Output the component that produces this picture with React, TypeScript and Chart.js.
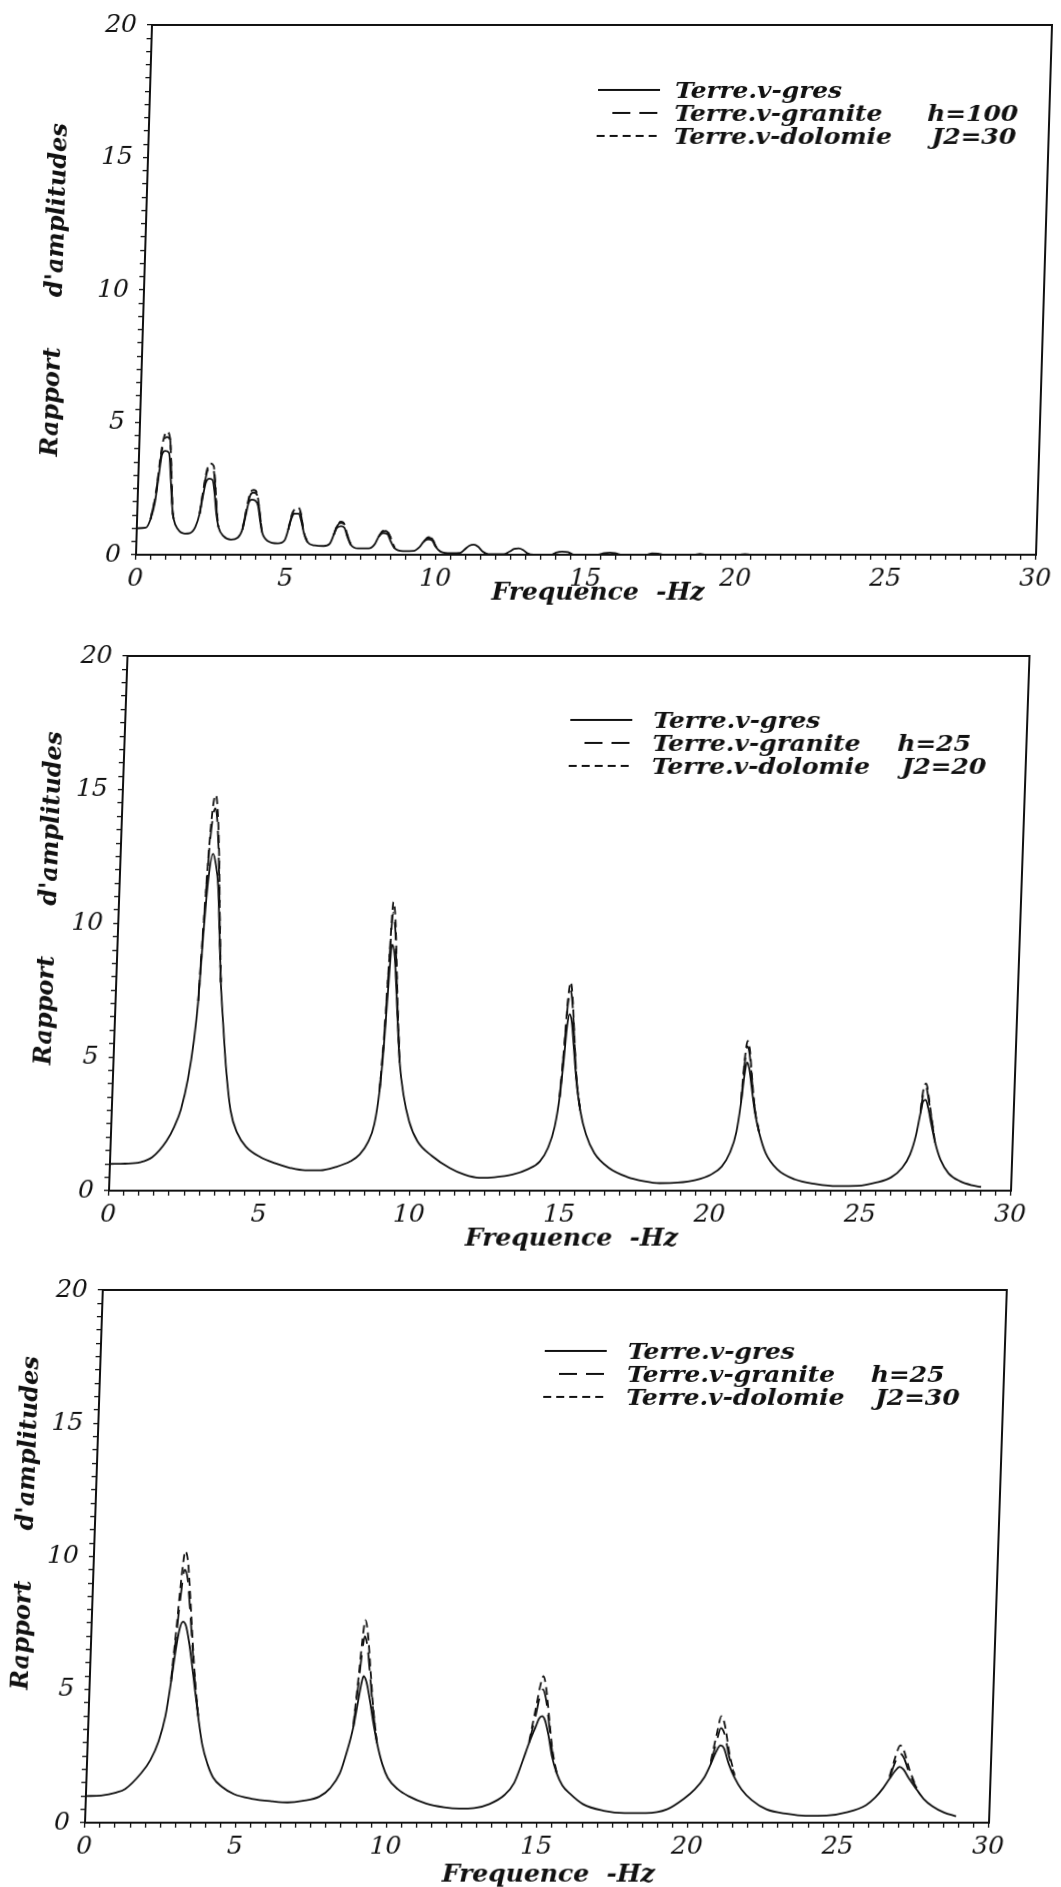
import React, { useEffect, useRef } from 'react';
import { Chart, registerables } from 'chart.js';

Chart.register(...registerables);

// ---------- shared text ----------
const SERIES_NAMES = ['Terre.v-gres', 'Terre.v-granite', 'Terre.v-dolomie'];
const X_TITLE = '   Frequence  -Hz';
const Y_TITLE_WORDS = ['Rapport', "d'amplitudes"];
const X_TICK_LABELS = [0, 5, 10, 15, 20, 25, 30];
const Y_TICK_LABELS = [0, 5, 10, 15, 20];

// ---------- panel 1 : h=100, J2=30 ----------
const p1Params = ['', 'h=100', 'J2=30'];
const p1Freq = [0, 0.3, 0.45, 0.58, 0.68, 0.76, 0.87, 1.0, 1.08, 1.15, 1.22, 1.36, 1.6, 1.78, 1.95, 2.08, 2.17, 2.25, 2.37, 2.48, 2.56, 2.63, 2.72, 2.9, 3.15, 3.38, 3.52, 3.62, 3.7, 3.8, 3.92, 4.02, 4.1, 4.18, 4.38, 4.72, 4.94, 5.05, 5.14, 5.24, 5.38, 5.48, 5.58, 5.7, 5.95, 6.25, 6.45, 6.57, 6.66, 6.8, 6.92, 7.02, 7.15, 7.4, 7.75, 7.95, 8.07, 8.22, 8.36, 8.48, 8.62, 8.9, 9.25, 9.45, 9.58, 9.72, 9.86, 9.98, 10.15, 10.5, 10.8, 10.95, 11.1, 11.25, 11.4, 11.55, 11.75, 12.25, 12.45, 12.6, 12.75, 12.9, 13.05, 13.25, 13.85, 14.0, 14.2, 14.4, 14.6, 15.4, 15.6, 15.8, 16.0, 16.2, 17.0, 17.2, 17.4, 17.6, 18.6, 18.8, 19.0, 20.1, 20.3, 20.5, 29.0];
const p1Gres = [1.0, 1.02, 1.35, 2.0, 3.0, 3.75, 3.92, 3.85, 2.9, 1.9, 1.35, 0.98, 0.8, 0.82, 1.05, 1.55, 2.2, 2.7, 2.87, 2.82, 2.3, 1.6, 1.05, 0.7, 0.57, 0.65, 0.95, 1.5, 1.95, 2.08, 2.05, 1.85, 1.3, 0.85, 0.52, 0.43, 0.55, 0.95, 1.35, 1.55, 1.55, 1.25, 0.8, 0.48, 0.35, 0.33, 0.42, 0.75, 1.0, 1.08, 1.02, 0.7, 0.38, 0.24, 0.24, 0.4, 0.68, 0.82, 0.78, 0.5, 0.24, 0.14, 0.15, 0.3, 0.5, 0.58, 0.54, 0.3, 0.12, 0.06, 0.07, 0.2, 0.34, 0.38, 0.3, 0.12, 0.02, 0.02, 0.12, 0.22, 0.24, 0.18, 0.05, 0.0, 0.0, 0.08, 0.12, 0.1, 0.0, 0.0, 0.06, 0.08, 0.05, 0.0, 0.0, 0.05, 0.04, 0.0, 0.0, 0.03, 0.0, 0.0, 0.02, 0.0, 0.0];
const p1PeakFreq = [0.45, 0.6, 0.72, 0.8, 0.9, 1.02, 1.1, 1.18, 1.22, 1.6, 2.08, 2.18, 2.28, 2.38, 2.5, 2.58, 2.65, 2.72, 3.1, 3.52, 3.64, 3.75, 3.86, 3.98, 4.08, 4.18, 4.6, 5.05, 5.15, 5.26, 5.36, 5.46, 5.56, 5.7, 6.1, 6.57, 6.68, 6.8, 6.92, 7.02, 7.15, 7.6, 8.07, 8.2, 8.3, 8.42, 8.62, 9.0, 9.58, 9.72, 9.84, 9.98, 10.15];
const p1Granite = [1.35, 2.3, 3.6, 4.2, 4.45, 4.35, 3.0, 1.6, 1.35, null, 1.55, 2.4, 3.1, 3.3, 3.2, 2.5, 1.6, 1.05, null, 0.95, 1.7, 2.25, 2.35, 2.25, 1.6, 0.85, null, 0.95, 1.45, 1.68, 1.72, 1.5, 0.9, 0.48, null, 0.75, 1.1, 1.2, 1.12, 0.75, 0.38, null, 0.68, 0.88, 0.9, 0.76, 0.24, null, 0.5, 0.64, 0.62, 0.32, 0.12];
const p1Dolomie = [1.35, 2.3, 3.7, 4.35, 4.65, 4.4, 3.1, 1.6, 1.35, null, 1.55, 2.45, 3.2, 3.45, 3.35, 2.6, 1.65, 1.05, null, 0.95, 1.75, 2.35, 2.45, 2.3, 1.6, 0.85, null, 0.95, 1.5, 1.74, 1.78, 1.55, 0.9, 0.48, null, 0.75, 1.12, 1.25, 1.15, 0.76, 0.38, null, 0.68, 0.9, 0.92, 0.77, 0.24, null, 0.5, 0.66, 0.64, 0.33, 0.12];

// ---------- panel 2 : h=25, J2=20 ----------
const p2Params = ['', 'h=25', 'J2=20'];
const p2Freq = [0, 0.5, 1.0, 1.4, 1.85, 2.1, 2.3, 2.5, 2.65, 2.75, 2.85, 2.95, 3.07, 3.18, 3.28, 3.38, 3.48, 3.6, 3.75, 3.95, 4.2, 4.5, 5.0, 5.5, 6.0, 6.5, 7.0, 7.5, 8.0, 8.3, 8.55, 8.75, 8.88, 8.97, 9.05, 9.13, 9.22, 9.3, 9.4, 9.52, 9.68, 9.9, 10.2, 10.7, 11.3, 11.8, 12.3, 12.8, 13.4, 13.9, 14.3, 14.55, 14.75, 14.88, 14.97, 15.05, 15.12, 15.2, 15.3, 15.42, 15.58, 15.8, 16.1, 16.6, 17.2, 17.8, 18.3, 18.9, 19.5, 20.0, 20.35, 20.6, 20.8, 20.92, 21.0, 21.07, 21.15, 21.25, 21.38, 21.55, 21.8, 22.2, 22.8, 23.5, 24.2, 24.9, 25.5, 26.0, 26.35, 26.6, 26.78, 26.9, 26.98, 27.06, 27.15, 27.27, 27.42, 27.62, 27.9, 28.3, 28.7, 29.0];
const p2Gres = [1.0, 1.01, 1.06, 1.25, 1.85, 2.4, 3.05, 4.2, 5.6, 7.1, 9.8, 11.7, 12.6, 12.2, 11.4, 9.6, 7.8, 6.3, 4.6, 3.0, 2.15, 1.65, 1.25, 1.02, 0.85, 0.76, 0.76, 0.88, 1.1, 1.36, 1.8, 2.5, 3.7, 5.3, 7.5, 9.2, 8.9, 7.9, 6.4, 4.8, 3.6, 2.6, 1.85, 1.3, 0.85, 0.6, 0.48, 0.5, 0.6, 0.8, 1.1, 1.6, 2.4, 3.5, 4.8, 6.2, 6.6, 6.3, 5.3, 4.1, 3.0, 2.1, 1.4, 0.85, 0.52, 0.35, 0.28, 0.3, 0.4, 0.6, 0.9, 1.4, 2.2, 3.3, 4.3, 4.8, 4.6, 3.9, 3.0, 2.2, 1.4, 0.8, 0.42, 0.25, 0.17, 0.18, 0.3, 0.5, 0.85, 1.35, 2.1, 2.9, 3.35, 3.4, 3.1, 2.5, 1.8, 1.15, 0.65, 0.35, 0.2, 0.14];
const p2PeakFreq = [2.75, 2.85, 2.95, 3.03, 3.1, 3.18, 3.28, 3.38, 3.48, 5.0, 8.88, 8.97, 9.05, 9.13, 9.22, 9.3, 9.4, 9.52, 12.0, 14.88, 14.97, 15.05, 15.12, 15.2, 15.3, 15.42, 15.58, 18.0, 20.92, 21.0, 21.07, 21.15, 21.25, 21.38, 21.55, 24.0, 26.9, 26.98, 27.06, 27.15, 27.27, 27.42];
const p2Granite = [7.1, 10.2, 12.9, 14.0, 14.3, 13.8, 12.2, 9.9, 7.8, null, 3.7, 5.6, 8.3, 10.4, 9.8, 8.4, 6.6, 4.8, null, 3.5, 5.2, 7.0, 7.5, 7.0, 5.7, 4.2, 3.0, null, 3.3, 4.8, 5.4, 5.1, 4.2, 3.1, 2.2, null, 2.9, 3.7, 3.85, 3.45, 2.7, 1.8];
const p2Dolomie = [7.1, 10.3, 13.2, 14.5, 14.8, 14.2, 12.5, 10.0, 7.8, null, 3.7, 5.7, 8.5, 10.8, 10.1, 8.6, 6.7, 4.8, null, 3.5, 5.3, 7.2, 7.8, 7.2, 5.8, 4.2, 3.0, null, 3.4, 5.0, 5.6, 5.3, 4.3, 3.1, 2.2, null, 3.0, 3.85, 4.0, 3.55, 2.75, 1.8];

// ---------- panel 3 : h=25, J2=30 ----------
const p3Params = ['', 'h=25', 'J2=30'];
const p3Freq = [0, 0.5, 1.0, 1.3, 1.8, 2.1, 2.35, 2.55, 2.7, 2.82, 2.93, 3.03, 3.13, 3.25, 3.38, 3.5, 3.65, 3.8, 4.0, 4.2, 4.5, 4.9, 5.5, 6.2, 6.7, 7.2, 7.75, 8.1, 8.4, 8.62, 8.8, 8.92, 9.0, 9.08, 9.18, 9.3, 9.45, 9.6, 9.8, 10.0, 10.35, 10.7, 11.3, 11.9, 12.4, 12.9, 13.4, 13.9, 14.2, 14.45, 14.65, 14.85, 14.95, 15.05, 15.15, 15.28, 15.42, 15.6, 15.8, 16.05, 16.5, 17.2, 17.9, 18.6, 19.3, 19.85, 20.2, 20.5, 20.7, 20.88, 21.0, 21.12, 21.3, 21.5, 21.75, 22.1, 22.6, 23.3, 23.9, 24.6, 25.3, 25.9, 26.2, 26.45, 26.65, 26.83, 26.97, 27.1, 27.3, 27.56, 27.8, 28.1, 28.5, 28.9];
const p3Gres = [1.0, 1.02, 1.13, 1.27, 1.85, 2.35, 3.05, 4.0, 5.3, 6.5, 7.3, 7.55, 7.4, 6.8, 5.9, 5.0, 3.9, 2.95, 2.2, 1.7, 1.35, 1.08, 0.9, 0.8, 0.76, 0.82, 0.98, 1.3, 1.85, 2.7, 3.6, 4.5, 5.1, 5.5, 5.3, 4.7, 3.8, 3.0, 2.2, 1.68, 1.25, 1.0, 0.72, 0.58, 0.53, 0.55, 0.7, 1.05, 1.5, 2.3, 3.0, 3.6, 3.9, 4.0, 3.85, 3.3, 2.5, 1.85, 1.4, 1.1, 0.7, 0.45, 0.36, 0.36, 0.5, 0.9, 1.25, 1.7, 2.2, 2.7, 2.9, 2.8, 2.2, 1.7, 1.25, 0.85, 0.5, 0.33, 0.26, 0.27, 0.4, 0.66, 0.95, 1.3, 1.65, 1.95, 2.1, 2.0, 1.65, 1.25, 0.9, 0.62, 0.38, 0.24];
const p3PeakFreq = [2.7, 2.82, 2.93, 3.03, 3.13, 3.25, 3.38, 3.5, 3.65, 6.0, 8.8, 8.92, 9.0, 9.08, 9.18, 9.3, 9.45, 9.6, 12.0, 14.65, 14.85, 14.95, 15.05, 15.15, 15.28, 15.42, 15.6, 18.0, 20.7, 20.88, 21.0, 21.12, 21.3, 21.5, 24.0, 26.65, 26.83, 26.97, 27.1, 27.3, 27.56];
const p3Granite = [5.3, 7.0, 8.6, 9.5, 9.2, 8.0, 6.5, 5.2, 3.9, null, 3.6, 5.2, 6.3, 7.0, 6.6, 5.5, 4.1, 3.0, null, 3.0, 4.1, 4.7, 5.0, 4.7, 3.8, 2.7, 1.85, null, 2.2, 3.1, 3.55, 3.35, 2.5, 1.75, null, 1.7, 2.3, 2.6, 2.45, 1.85, 1.3];
const p3Dolomie = [5.4, 7.3, 9.2, 10.2, 9.8, 8.4, 6.7, 5.3, 3.9, null, 3.7, 5.5, 6.8, 7.6, 7.1, 5.8, 4.2, 3.0, null, 3.05, 4.4, 5.1, 5.5, 5.1, 4.0, 2.8, 1.85, null, 2.3, 3.4, 4.0, 3.7, 2.65, 1.8, null, 1.75, 2.5, 2.9, 2.7, 2.0, 1.3];

// ---------- styles / layout ----------
const INK = '#111111';
const SERIF = '"DejaVu Serif", "Liberation Serif", serif';
const DASHES = [[], [18, 9], [8, 5]];
const SAMPLE_INSET = [0, 15, 0];

// chart rectangles in page pixels, plus the slant of the scanned page (px of shift at the top edge)
const LAYOUT = [
  { top: 0, height: 630, L: 136, R: 1036, T: 25, B: 555, xh: 53, slant: 16, yTitlePad: 33, yLead: 0, lgX: 584, lgTextX: 661, lgY: 92, paramDx: 253 },
  { top: 630, height: 630, L: 109, R: 1011, T: 656, B: 1191, xh: 63, slant: 18.5, yTitlePad: 25, yLead: 6, lgX: 554, lgTextX: 637, lgY: 722, paramDx: 245 },
  { top: 1260, height: 630, L: 85, R: 989, T: 1290, B: 1823, xh: 67, slant: 17.8, yTitlePad: 2, yLead: 8, lgX: 529, lgTextX: 612, lgY: 1353, paramDx: 244 },
];

const PANEL_DATA = [
  { freq: p1Freq, gres: p1Gres, peakFreq: p1PeakFreq, granite: p1Granite, dolomie: p1Dolomie, params: p1Params },
  { freq: p2Freq, gres: p2Gres, peakFreq: p2PeakFreq, granite: p2Granite, dolomie: p2Dolomie, params: p2Params },
  { freq: p3Freq, gres: p3Gres, peakFreq: p3PeakFreq, granite: p3Granite, dolomie: p3Dolomie, params: p3Params },
];

const toPoints = (xs: number[], ys: (number | null)[]) => xs.map((x, i) => ({ x, y: ys[i] }));

const framePlugin = {
  id: 'paperFrame',
  afterDatasetsDraw(chart: any) {
    const { ctx, chartArea: a } = chart;
    ctx.save();
    ctx.strokeStyle = INK;
    ctx.lineWidth = 2;
    ctx.strokeRect(a.left, a.top, a.right - a.left, a.bottom - a.top);
    ctx.restore();
  },
};

const legendPlugin = {
  id: 'paperLegend',
  afterDraw(chart: any, _args: any, opts: any) {
    const { ctx } = chart;
    ctx.save();
    ctx.font = `italic bold 23px ${SERIF}`;
    ctx.fillStyle = INK;
    ctx.textBaseline = 'middle';
    ctx.textAlign = 'left';
    chart.data.datasets.forEach((ds: any, i: number) => {
      const y = opts.y + i * 23;
      ctx.strokeStyle = INK;
      ctx.lineWidth = 2;
      ctx.setLineDash(ds.borderDash || []);
      ctx.beginPath();
      ctx.moveTo(opts.x + SAMPLE_INSET[i], y - 2);
      ctx.lineTo(opts.x + 62, y - 2);
      ctx.stroke();
      ctx.setLineDash([]);
      const put = (t: string, x: number) => {
        ctx.save();
        ctx.translate(x, y);
        ctx.scale(1.08, 1);
        ctx.fillText(t, 0, 0);
        ctx.restore();
      };
      put(ds.label, opts.textX);
      if (opts.params[i]) put(opts.params[i], opts.textX + opts.paramDx + (i === 2 ? 5 : 0));
    });
    ctx.restore();
  },
};

function Panel({ index }: { index: number }) {
  const ref = useRef<HTMLCanvasElement>(null);
  const lay = LAYOUT[index];
  const d = PANEL_DATA[index];
  const chartH = lay.B - lay.T;
  const skewDeg = (-Math.atan(lay.slant / chartH) * 180) / Math.PI;

  useEffect(() => {
    const canvas = ref.current;
    if (!canvas) return;
    const tickFont = { family: SERIF, style: 'italic' as const, size: 25 };
    const titleFont = { family: SERIF, style: 'italic' as const, weight: 'bold' as const, size: 24 };
    const yTitle = ' '.repeat(lay.yLead) + Y_TITLE_WORDS[0] + '      ' + Y_TITLE_WORDS[1];
    const lineCommon = { borderColor: INK, borderWidth: 1.8, pointRadius: 0, fill: false, cubicInterpolationMode: 'monotone' as const, spanGaps: false };
    const chart = new Chart(canvas, {
      type: 'line',
      data: {
        datasets: [
          { ...lineCommon, label: SERIES_NAMES[0], data: toPoints(d.freq, d.gres), borderDash: DASHES[0] },
          { ...lineCommon, label: SERIES_NAMES[1], data: toPoints(d.peakFreq, d.granite), borderDash: DASHES[1] },
          { ...lineCommon, label: SERIES_NAMES[2], data: toPoints(d.peakFreq, d.dolomie), borderDash: DASHES[2] },
        ],
      },
      options: {
        responsive: false,
        animation: false,
        devicePixelRatio: 1,
        layout: {
          padding: {
            left: 0,
            right: 1061 - lay.R,
            top: lay.T - lay.top,
            bottom: Math.max(0, lay.height - (lay.B - lay.top) - lay.xh),
          },
        },
        plugins: {
          legend: { display: false },
          tooltip: { enabled: false },
          paperLegend: { x: lay.lgX, y: lay.lgY - lay.top, textX: lay.lgTextX, paramDx: lay.paramDx, params: d.params },
        } as any,
        scales: {
          x: {
            type: 'linear',
            min: 0,
            max: 30,
            afterFit: (s: any) => { s.height = lay.xh; },
            border: { display: true, color: INK, width: 2 },
            grid: { display: true, drawOnChartArea: false, drawTicks: true, tickLength: 5, color: INK, lineWidth: 1.3 },
            ticks: {
              stepSize: 0.5,
              autoSkip: false,
              maxRotation: 0,
              padding: 4,
              color: INK,
              font: tickFont,
              callback: (v: any) => (X_TICK_LABELS.includes(Number(v)) ? String(v) : ''),
            },
            title: { display: true, text: X_TITLE, color: INK, font: { ...titleFont, size: 25 }, padding: { top: 0, bottom: 0 } },
          },
          y: {
            type: 'linear',
            min: 0,
            max: 20,
            afterFit: (s: any) => { s.width = lay.L; },
            border: { display: true, color: INK, width: 2 },
            grid: { display: true, drawOnChartArea: false, drawTicks: true, tickLength: 5, color: INK, lineWidth: 1.3 },
            ticks: {
              stepSize: 0.5,
              autoSkip: false,
              padding: 10,
              color: INK,
              font: tickFont,
              callback: (v: any) => (Y_TICK_LABELS.includes(Number(v)) ? String(v) : ''),
            },
            title: { display: true, text: yTitle, color: INK, font: titleFont, padding: { top: lay.yTitlePad, bottom: 0 } },
          },
        },
      },
      plugins: [framePlugin, legendPlugin],
    });
    return () => chart.destroy();
  }, []);

  return (
    <canvas
      ref={ref}
      width={1061}
      height={lay.height}
      style={{
        position: 'absolute',
        left: 0,
        top: lay.top,
        width: 1061,
        height: lay.height,
        transform: `skewX(${skewDeg}deg)`,
        transformOrigin: `0px ${lay.B - lay.top}px`,
      }}
    />
  );
}

export default function App() {
  return (
    <div style={{ position: 'absolute', left: 0, top: 0, width: 1061, height: 1887, background: '#ffffff', overflow: 'hidden' }}>
      <Panel index={0} />
      <Panel index={1} />
      <Panel index={2} />
    </div>
  );
}
